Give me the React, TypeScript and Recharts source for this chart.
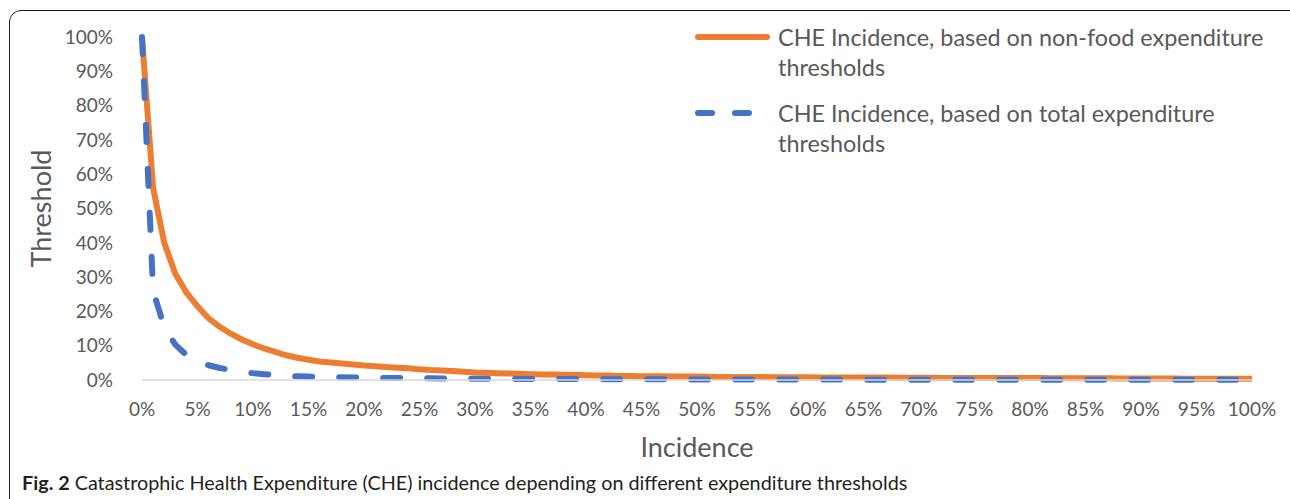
import { LineChart, Line, XAxis, YAxis, Legend, Label } from 'recharts';

const incidence = [
  '0%', '1%', '2%', '3%', '4%', '5%', '6%', '7%', '8%', '9%',
  '10%', '11%', '12%', '13%', '14%', '15%', '16%', '17%', '18%', '19%',
  '20%', '21%', '22%', '23%', '24%', '25%', '26%', '27%', '28%', '29%',
  '30%', '31%', '32%', '33%', '34%', '35%', '36%', '37%', '38%', '39%',
  '40%', '41%', '42%', '43%', '44%', '45%', '46%', '47%', '48%', '49%',
  '50%', '51%', '52%', '53%', '54%', '55%', '56%', '57%', '58%', '59%',
  '60%', '61%', '62%', '63%', '64%', '65%', '66%', '67%', '68%', '69%',
  '70%', '71%', '72%', '73%', '74%', '75%', '76%', '77%', '78%', '79%',
  '80%', '81%', '82%', '83%', '84%', '85%', '86%', '87%', '88%', '89%',
  '90%', '91%', '92%', '93%', '94%', '95%', '96%', '97%', '98%', '99%',
  '100%',
];

// threshold (%) for the non-food expenditure measure
const nonFood = [
  100, 56, 40, 31, 25.5, 21.5, 18, 15.5, 13.5, 11.8,
  10.4, 9.2, 8.2, 7.2, 6.5, 5.9, 5.4, 5.1, 4.8, 4.5,
  4.2, 4.0, 3.8, 3.6, 3.4, 3.1, 2.9, 2.8, 2.6, 2.4,
  2.2, 2.1, 2.0, 1.9, 1.8, 1.7, 1.6, 1.6, 1.5, 1.5,
  1.4, 1.3, 1.3, 1.2, 1.2, 1.1, 1.1, 1.1, 1.0, 1.0,
  1.0, 0.95, 0.9, 0.9, 0.9, 0.85, 0.85, 0.8, 0.8, 0.8,
  0.8, 0.75, 0.75, 0.75, 0.7, 0.7, 0.7, 0.7, 0.65, 0.65,
  0.65, 0.65, 0.6, 0.6, 0.6, 0.6, 0.6, 0.55, 0.55, 0.55,
  0.55, 0.55, 0.5, 0.5, 0.5, 0.5, 0.5, 0.5, 0.45, 0.45,
  0.45, 0.45, 0.45, 0.45, 0.4, 0.4, 0.4, 0.4, 0.4, 0.4,
  0.4,
];

// threshold (%) for the total expenditure measure
const total = [
  100, 26, 15.5, 10.3, 7.3, 5.3, 4.3, 3.5, 2.9, 2.4,
  2.0, 1.7, 1.4, 1.2, 1.1, 1.0, 0.9, 0.85, 0.8, 0.75,
  0.7, 0.65, 0.6, 0.6, 0.55, 0.5, 0.5, 0.45, 0.45, 0.4,
  0.4, 0.38, 0.36, 0.34, 0.32, 0.3, 0.3, 0.28, 0.27, 0.26,
  0.25, 0.24, 0.23, 0.22, 0.21, 0.2, 0.2, 0.19, 0.18, 0.17,
  0.17, 0.16, 0.16, 0.15, 0.15, 0.14, 0.14, 0.13, 0.13, 0.12,
  0.12, 0.12, 0.11, 0.11, 0.11, 0.1, 0.1, 0.1, 0.1, 0.09,
  0.09, 0.09, 0.09, 0.08, 0.08, 0.08, 0.08, 0.08, 0.07, 0.07,
  0.07, 0.07, 0.07, 0.06, 0.06, 0.06, 0.06, 0.06, 0.06, 0.05,
  0.05, 0.05, 0.05, 0.05, 0.05, 0.05, 0.04, 0.04, 0.04, 0.04,
  0.04,
];

const yTicks = [0, 10, 20, 30, 40, 50, 60, 70, 80, 90, 100];

const NONFOOD_NAME = 'CHE Incidence, based on non-food expenditure thresholds';
const TOTAL_NAME = 'CHE Incidence, based on total expenditure thresholds';

const FONT = 'Lato, "Open Sans", sans-serif';
const GREY = '#595959';
const ORANGE = '#ED7D31';
const BLUE = '#4472C4';

const chartData = incidence.map((name, i) => ({
  name,
  nonFood: nonFood[i],
  total: total[i],
}));

const LegendBox = () => {
  const items = [
    { label: NONFOOD_NAME, color: ORANGE, dash: undefined },
    { label: TOTAL_NAME, color: BLUE, dash: '14 23' },
  ];
  return (
    <div style={{ fontFamily: FONT }}>
      {items.map((it) => (
        <div key={it.label} style={{ display: 'flex', alignItems: 'flex-start', marginBottom: 16 }}>
          <svg width={83} height={30} style={{ flex: 'none' }}>
            <line
              x1={3} x2={72} y1={15} y2={15}
              stroke={it.color} strokeWidth={6} strokeLinecap="round"
              strokeDasharray={it.dash}
            />
          </svg>
          <div style={{ color: GREY, fontSize: 23.4, lineHeight: '30px', width: 500 }}>
            {it.label}
          </div>
        </div>
      ))}
    </div>
  );
};

const YTitle = ({ viewBox }: any) => {
  const cy = viewBox.y + viewBox.height / 2;
  return (
    <text
      x={40} y={cy} transform={`rotate(-90 40 ${cy})`}
      textAnchor="middle" dominantBaseline="central"
      fill={GREY} fontSize={27} fontFamily={FONT}
    >
      Threshold
    </text>
  );
};

export default function App() {
  return (
    <div style={{ position: 'absolute', left: 0, top: 0, width: 1290, height: 499, background: '#fff', overflow: 'hidden' }}>
      <div
        style={{
          position: 'absolute', left: 9, top: 10, width: 1300, height: 540,
          border: '1.5px solid #231f20', borderRadius: 12, boxSizing: 'border-box',
        }}
      />
      <div style={{ position: 'absolute', left: 0, top: 0 }}>
        <LineChart width={1290} height={499} data={chartData} margin={{ top: 37, right: 38, left: 0, bottom: 0 }}>
          <XAxis
            dataKey="name"
            interval={4}
            height={119}
            tickLine={false}
            tickSize={0}
            tickMargin={23}
            axisLine={{ stroke: '#d9d9d9', strokeWidth: 1.5 }}
            tick={{ fill: GREY, fontSize: 19, fontFamily: FONT }}
          >
            <Label
              value="Incidence" position="insideTop" offset={58}
              style={{ fill: GREY, fontSize: 27, fontFamily: FONT }}
            />
          </XAxis>
          <YAxis
            width={142}
            domain={[0, 100]}
            ticks={yTicks}
            tickFormatter={(v: number) => `${v}%`}
            axisLine={false}
            tickLine={false}
            tickSize={0}
            tickMargin={29}
            tick={{ fill: GREY, fontSize: 19, fontFamily: FONT }}
          >
            <Label content={YTitle} />
          </YAxis>
          <Legend
            layout="horizontal"
            verticalAlign="middle"
            align="center"
            content={LegendBox}
            wrapperStyle={{ left: 695, top: 22, width: 590 }}
          />
          <Line
            name={NONFOOD_NAME}
            dataKey="nonFood"
            type="linear"
            stroke={ORANGE}
            strokeWidth={6}
            dot={false}
            isAnimationActive={false}
          />
          <Line
            name={TOTAL_NAME}
            dataKey="total"
            type="linear"
            stroke={BLUE}
            strokeWidth={6}
            strokeDasharray="17 27"
            strokeLinecap="round"
            dot={false}
            isAnimationActive={false}
          />
        </LineChart>
      </div>
      <div
        style={{
          position: 'absolute', left: 22, top: 470, fontFamily: FONT, fontSize: 19.8,
          color: '#231f20', whiteSpace: 'nowrap',
        }}
      >
        <b>Fig. 2</b> Catastrophic Health Expenditure (CHE) incidence depending on different expenditure thresholds
      </div>
    </div>
  );
}
